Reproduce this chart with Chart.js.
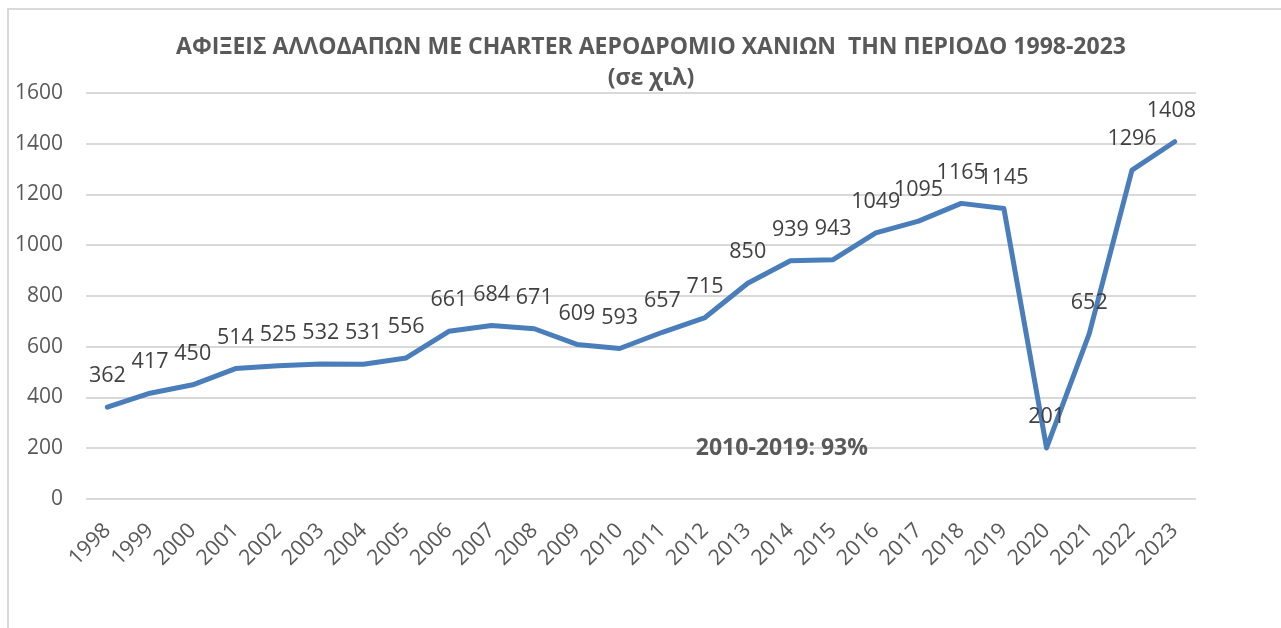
<!DOCTYPE html>
<html>
<head>
<meta charset="utf-8">
<script src="https://cdn.jsdelivr.net/npm/chart.js@4/dist/chart.umd.min.js"></script>
<style>
    body {
        margin: 0;
        background: #ffffff;
    }

    .frame {
        position: absolute;
        left: 7px;
        top: 8px;
        width: 1300px;
        height: 640px;
        border-left: 2px solid #d9d9d9;
        border-top: 2px solid #d9d9d9;
    }

    canvas {
        position: absolute;
        left: 0;
        top: 0;
    }
</style>
</head>
<body>
<div class="frame"></div>
<canvas id="chart" width="1281" height="628"></canvas>
<script>
const years = ["1998", "1999", "2000", "2001", "2002", "2003", "2004", "2005", "2006", "2007",
    "2008", "2009", "2010", "2011", "2012", "2013", "2014", "2015", "2016", "2017",
    "2018", "2019", "2020", "2021", "2022", "2023"];
const arrivals = [362, 417, 450, 514, 525, 532, 531, 556, 661, 684,
    671, 609, 593, 657, 715, 850, 939, 943, 1049, 1095,
    1165, 1145, 201, 652, 1296, 1408];
const titleLines = ["ΑΦΙΞΕΙΣ ΑΛΛΟΔΑΠΩΝ ΜΕ CHARTER ΑΕΡΟΔΡΟΜΙΟ ΧΑΝΙΩΝ  ΤΗΝ ΠΕΡΙΟΔΟ 1998-2023", "(σε χιλ)"];
const note = "2010-2019: 93%";

const FONT = "'Open Sans', 'DejaVu Sans', sans-serif";

// title (centred on the whole frame, not the plot), value labels, growth note
const labelsPlugin = {
    id: "labels",
    afterDatasetsDraw(chart) {
        const ctx = chart.ctx;
        const meta = chart.getDatasetMeta(0);
        const area = chart.chartArea;
        ctx.save();
        ctx.textAlign = "center";
        ctx.textBaseline = "middle";

        ctx.font = "bold 23px " + FONT;
        ctx.fillStyle = "#595959";
        titleLines.forEach((line, i) => ctx.fillText(line, 651, 47 + i * 31));

        ctx.font = "21.5px " + FONT;
        ctx.fillStyle = "#404040";
        meta.data.forEach((pt, i) => {
            const text = String(arrivals[i]);
            const w = ctx.measureText(text).width;
            let x = pt.x;
            if (x + w / 2 > area.right) x = area.right - w / 2;
            ctx.fillText(text, x, pt.y - 31);
        });

        const xs = chart.scales.x;
        const ys = chart.scales.y;
        ctx.font = "bold 23px " + FONT;
        ctx.fillStyle = "#595959";
        ctx.fillText(note, xs.getPixelForValue(15.8), ys.getPixelForValue(200));
        ctx.restore();
    }
};

new Chart(document.getElementById("chart"), {
    type: "line",
    data: {
        labels: years,
        datasets: [{
            data: arrivals,
            borderColor: "#4a7ebb",
            borderWidth: 5,
            borderCapStyle: "round",
            borderJoinStyle: "round",
            pointRadius: 0,
            tension: 0
        }]
    },
    options: {
        responsive: false,
        animation: false,
        layout: { padding: { left: 0, right: 85, top: 93, bottom: 0 } },
        plugins: {
            legend: { display: false },
            tooltip: { enabled: false },
            title: { display: false }
        },
        scales: {
            x: {
                offset: true,
                grid: { display: false, drawTicks: false },
                border: { display: false },
                ticks: {
                    color: "#595959",
                    font: { family: FONT, size: 21.5 },
                    minRotation: 45,
                    maxRotation: 45,
                    autoSkip: false,
                    padding: 19
                },
                afterFit(scale) { scale.height = 129; }
            },
            y: {
                min: 0,
                max: 1600,
                grid: { color: "#d9d9d9", lineWidth: 2, drawTicks: false },
                border: { display: false },
                ticks: {
                    stepSize: 200,
                    color: "#595959",
                    font: { family: FONT, size: 21 },
                    padding: 23,
                    callback: (v) => String(v)
                },
                afterFit(scale) { scale.width = 86; }
            }
        }
    },
    plugins: [labelsPlugin]
});
</script>
</body>
</html>
